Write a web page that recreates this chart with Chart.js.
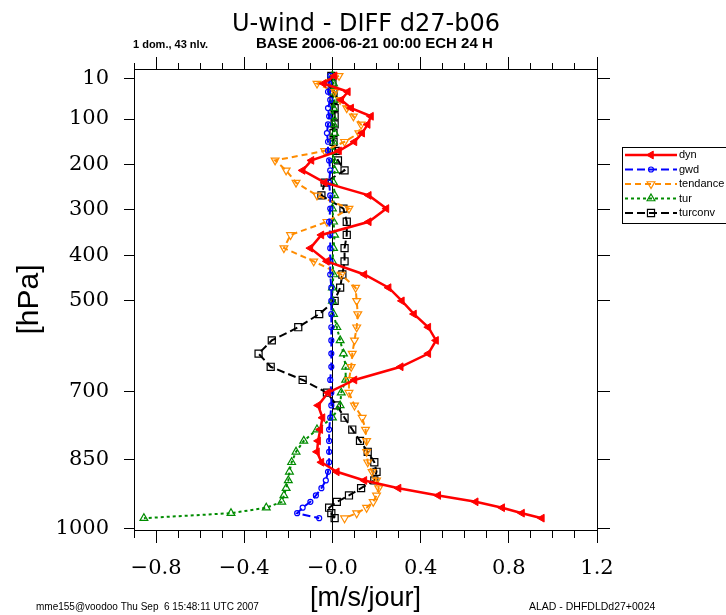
<!DOCTYPE html>
<html>
<head>
<meta charset="utf-8">
<script src="https://cdn.jsdelivr.net/npm/chart.js@4.4.0/dist/chart.umd.min.js"></script>
<style>
body{margin:0;background:#fff;}
canvas{display:block;}
</style>
</head>
<body>
<canvas id="profil" width="726" height="615"></canvas>
<script>
// niveaux du modele (hPa), 43 niveaux
var niveaux = [5,22,40,58,76,94,112,131,150,170,191,213,240,268,297,326,355,384,413,442,
  471,500,529,558,587,616,645,674,702,730,757,783,808,832,855,876,895,912,928,942,955,967,978];

var dyn = [0.01,-0.04,0.07,0.04,0.085,0.175,0.16,0.135,0.10,0.03,-0.095,-0.135,-0.035,0.165,0.245,
  0.165,-0.05,-0.10,-0.025,0.145,0.255,0.315,0.37,0.435,0.47,0.435,0.31,0.10,-0.02,-0.065,
  -0.045,-0.055,-0.065,-0.07,-0.05,0.02,0.145,0.30,0.48,0.65,0.77,0.86,0.95];

var gwd = [-0.01,-0.015,-0.02,-0.01,-0.02,-0.015,-0.02,-0.025,-0.02,-0.02,-0.015,-0.01,-0.015,-0.01,-0.01,
  -0.015,-0.01,-0.01,-0.01,-0.01,-0.005,-0.005,-0.005,-0.005,-0.005,-0.005,-0.005,-0.01,-0.005,-0.005,
  -0.01,-0.015,-0.015,-0.015,-0.015,-0.02,-0.03,-0.05,-0.075,-0.10,-0.135,-0.16,-0.06];

var tendance = [0.03,-0.07,0.01,0.035,0.065,0.095,0.13,0.12,0.055,-0.035,-0.26,-0.21,-0.165,-0.07,0.075,
  -0.025,-0.19,-0.22,-0.085,0.04,0.105,0.11,0.115,0.11,0.10,0.09,0.085,0.075,0.075,0.10,
  0.135,0.15,0.155,0.155,0.16,0.18,0.20,0.21,0.20,0.185,0.155,0.11,0.055];

var tur = [0,0.005,0,0.01,0.005,0,0.005,0.01,0.005,0,0.005,0.01,0.005,0.01,0,
  0.005,0.01,0.005,0,0.005,0,0,0.005,0.02,0.035,0.05,0.06,0.06,0.04,0.035,
  0,-0.07,-0.13,-0.165,-0.185,-0.195,-0.20,-0.21,-0.22,-0.23,-0.30,-0.46,-0.855];

var turconv = [-0.005,0,0.005,0.005,0.01,0.01,0.01,0.005,0.005,0.015,0.025,0.055,-0.035,-0.05,0.05,
  0.065,0.065,0.055,0.055,0.045,0.035,0.01,-0.06,-0.155,-0.275,-0.335,-0.28,-0.135,-0.025,0.02,
  0.055,0.09,0.125,0.16,0.19,0.2,0.19,0.13,0.075,0.02,-0.015,-0.005,0.01];

// graduations
var xMajeurs = [-0.8,-0.4,0,0.4,0.8,1.2];
var xTous = [-0.9,-0.8,-0.7,-0.6,-0.5,-0.4,-0.3,-0.2,-0.1,0,0.1,0.2,0.3,0.4,0.5,0.6,0.7,0.8,0.9,1.0,1.1,1.2];
var yTicks = [10,100,200,300,400,500,700,850,1000];

function points(serie){
  return serie.map(function(v,i){ return {x:v, y:niveaux[i]}; });
}
function estMajeur(v){
  for (var i=0;i<xMajeurs.length;i++){ if (Math.abs(xMajeurs[i]-v)<1e-6) return true; }
  return false;
}
function etiquetteX(v){
  if (!estMajeur(v)) return '';
  return (v<=1e-9 ? '\u2212' : '') + Math.abs(v).toFixed(1);
}
function ticksX(s){ s.ticks = xTous.map(function(v){ return {value:v}; }); }
function ticksY(s){ s.ticks = yTicks.map(function(v){ return {value:v}; }); }

var vide = 'rgba(0,0,0,0)';

// textes hors du graphe
var textes = {
  id:'textes',
  afterDraw:function(chart){
    var ctx = chart.ctx;
    ctx.save();
    ctx.fillStyle = '#000';
    ctx.textBaseline = 'alphabetic';
    ctx.textAlign = 'center';
    ctx.font = '24px "DejaVu Sans"';
    ctx.fillText('U-wind - DIFF d27-b06', 366, 31);
    ctx.textAlign = 'left';
    ctx.font = 'bold 11px "Liberation Sans"';
    ctx.fillText('1 dom., 43 nlv.', 133, 48);
    ctx.font = 'bold 15px "Liberation Sans"';
    ctx.fillText('BASE 2006-06-21 00:00 ECH 24 H', 256, 48);
    ctx.font = '10px "Liberation Sans"';
    ctx.fillText('mme155@voodoo Thu Sep  6 15:48:11 UTC 2007', 36, 610);
    ctx.font = '10.5px "Liberation Sans"';
    ctx.fillText('ALAD - DHFDLDd27+0024', 529, 610);
    ctx.restore();
  }
};

// legende dans un cadre a droite
var legende = {
  id:'legende',
  afterDraw:function(chart){
    var ctx = chart.ctx;
    ctx.save();
    ctx.strokeStyle = '#000';
    ctx.lineWidth = 1;
    ctx.strokeRect(622.5, 147.5, 130, 76);
    var y0 = 155, pas = 14.5;
    chart.data.datasets.forEach(function(ds, i){
      var y = y0 + i*pas;
      ctx.save();
      ctx.strokeStyle = ds.borderColor;
      ctx.lineWidth = ds.borderWidth;
      ctx.setLineDash(ds.borderDash || []);
      ctx.beginPath();
      ctx.moveTo(625, y);
      ctx.lineTo(677, y);
      ctx.stroke();
      ctx.setLineDash([]);
      ctx.fillStyle = ds.pointBackgroundColor;
      ctx.strokeStyle = ds.pointBorderColor;
      ctx.lineWidth = ds.pointBorderWidth;
      if (Chart.helpers && Chart.helpers.drawPoint) {
        Chart.helpers.drawPoint(ctx, {pointStyle:ds.pointStyle, rotation:ds.pointRotation||0,
          radius:ds.pointRadius, borderWidth:ds.pointBorderWidth}, 651, y);
      }
      ctx.restore();
      ctx.fillStyle = '#000';
      ctx.font = '11px "Liberation Sans"';
      ctx.textBaseline = 'middle';
      ctx.textAlign = 'left';
      ctx.fillText(ds.label, 679, y);
    });
    ctx.restore();
  }
};

var config = {
  type:'scatter',
  data:{
    datasets:[{
      label:'dyn', data:points(dyn), showLine:true,
      borderColor:'#ff0000', borderWidth:2.5, borderDash:[],
      pointStyle:'triangle', pointRotation:-90, pointRadius:4.5,
      pointBackgroundColor:'#ff0000', pointBorderColor:'#ff0000', pointBorderWidth:1
    },{
      label:'gwd', data:points(gwd), showLine:true,
      borderColor:'#0000ff', borderWidth:2, borderDash:[8,4],
      pointStyle:'circle', pointRadius:2.5,
      pointBackgroundColor:vide, pointBorderColor:'#0000ff', pointBorderWidth:1.2
    },{
      label:'tendance', data:points(tendance), showLine:true,
      borderColor:'#ff8c00', borderWidth:2, borderDash:[6,4],
      pointStyle:'triangle', pointRotation:180, pointRadius:4.5,
      pointBackgroundColor:vide, pointBorderColor:'#ff8c00', pointBorderWidth:1.2
    },{
      label:'tur', data:points(tur), showLine:true,
      borderColor:'#008c00', borderWidth:2, borderDash:[3,3],
      pointStyle:'triangle', pointRadius:4.5,
      pointBackgroundColor:vide, pointBorderColor:'#008c00', pointBorderWidth:1.2
    },{
      label:'turconv', data:points(turconv), showLine:true,
      borderColor:'#000000', borderWidth:2, borderDash:[8,4],
      pointStyle:'rect', pointRadius:5, 
      pointBackgroundColor:vide, pointBorderColor:'#000000', pointBorderWidth:1.2
    }]
  },
  options:{
    responsive:false,
    animation:false,
    layout:{padding:0},
    plugins:{legend:{display:false}, tooltip:{enabled:false}, title:{display:false}},
    scales:{
      x:{
        type:'linear', position:'bottom', min:-0.9, max:1.2,
        afterBuildTicks:ticksX,
        afterFit:function(s){ s.height = 85; },
        ticks:{autoSkip:false, maxRotation:0, padding:13, color:'#000',
          font:{family:'DejaVu Serif', size:21}, callback:etiquetteX},
        grid:{
          color:function(c){ return (c.tick && Math.abs(c.tick.value)<1e-9) ? '#000' : vide; },
          lineWidth:1, tickColor:'#000', tickLength:13,
          tickBorderDash:function(c){ return (c.tick && estMajeur(c.tick.value)) ? [] : [7,40]; }
        },
        border:{display:true, color:'#000', width:1},
        title:{display:true, text:'[m/s/jour]', color:'#000',
          font:{family:'Liberation Sans', size:27}, padding:{top:0, bottom:0}}
      },
      xHaut:{
        type:'linear', position:'top', min:-0.9, max:1.2,
        afterBuildTicks:ticksX,
        afterFit:function(s){ s.height = 69; },
        ticks:{display:false, autoSkip:false},
        grid:{drawOnChartArea:false, tickColor:'#000', tickLength:12,
          tickBorderDash:function(c){ return (c.tick && estMajeur(c.tick.value)) ? [] : [0,6,6,40]; }
        },
        border:{display:true, color:'#000', width:1}
      },
      y:{
        type:'linear', position:'left', reverse:true, min:-10, max:1004,
        afterBuildTicks:ticksY,
        afterFit:function(s){ s.width = 134; },
        ticks:{autoSkip:false, padding:15, color:'#000',
          font:{family:'DejaVu Serif', size:21},
          callback:function(v){ return String(v); }},
        grid:{drawOnChartArea:false, tickColor:'#000', tickLength:10},
        border:{display:true, color:'#000', width:1},
        title:{display:true, text:'[hPa]', color:'#000',
          font:{family:'Liberation Sans', size:30}, padding:{top:12, bottom:0}}
      },
      yDroite:{
        type:'linear', position:'right', reverse:true, min:-10, max:1004,
        afterBuildTicks:ticksY,
        afterFit:function(s){ s.width = 129; },
        ticks:{display:false, autoSkip:false},
        grid:{drawOnChartArea:false, tickColor:'#000', tickLength:13},
        border:{display:true, color:'#000', width:1}
      }
    }
  },
  plugins:[textes, legende]
};

window.monProfil = new Chart(document.getElementById('profil'), config);
</script>
</body>
</html>
